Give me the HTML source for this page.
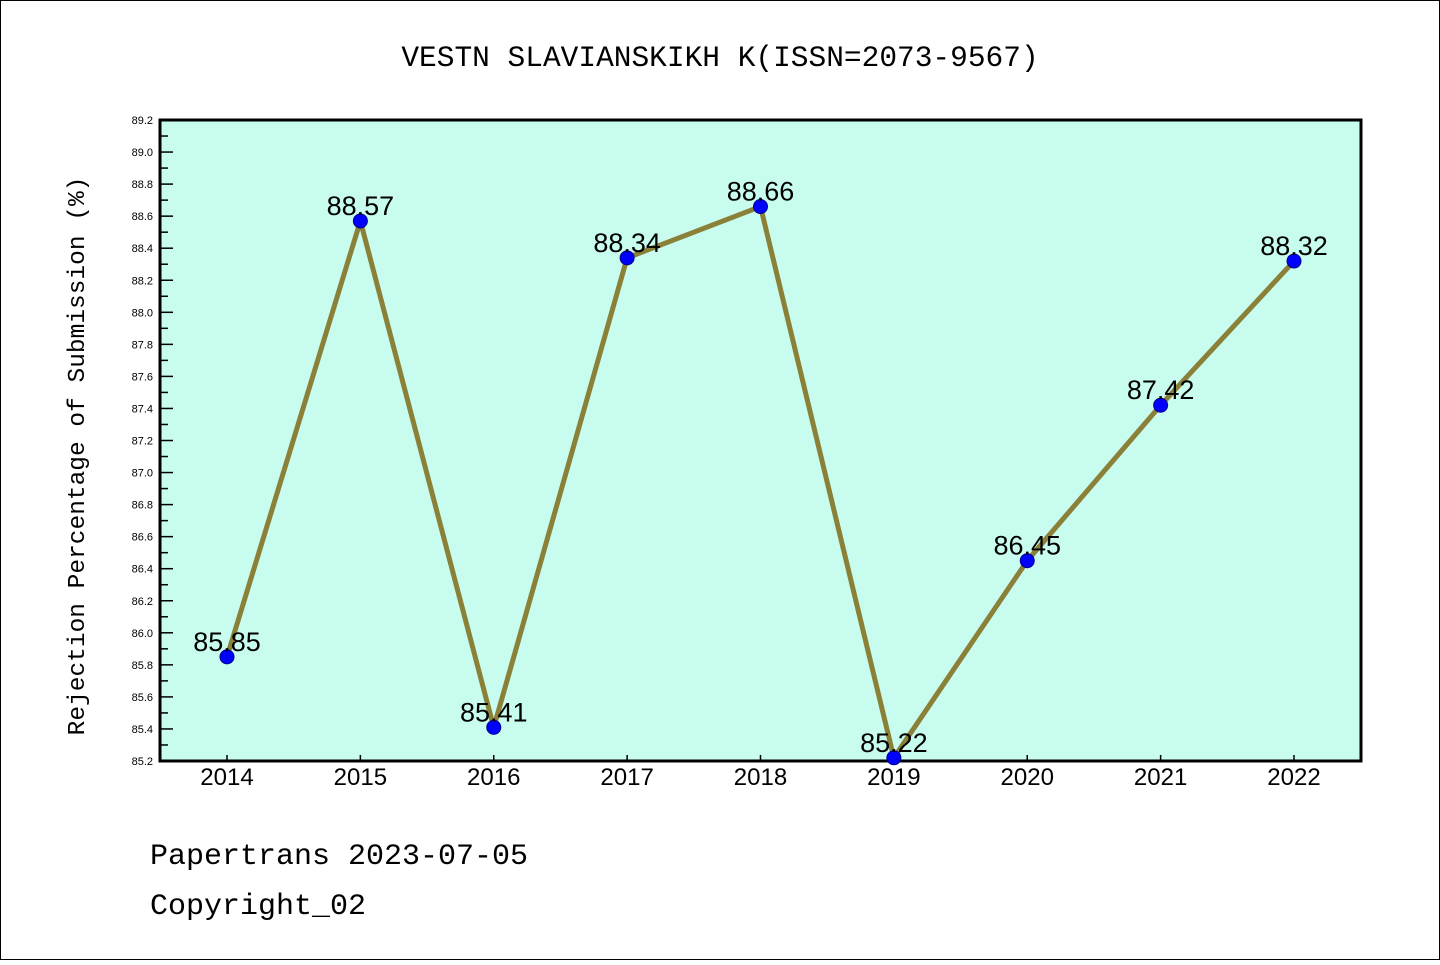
<!DOCTYPE html>
<html><head><meta charset="utf-8"><style>
body{margin:0;background:#fff}
.mono{font-family:"Liberation Mono","DejaVu Sans Mono",monospace}
.sans{font-family:"Liberation Sans","DejaVu Sans",sans-serif}
</style></head><body>
<svg width="1440" height="960" xmlns="http://www.w3.org/2000/svg" id="svg">
<rect x="0.5" y="0.5" width="1439" height="959" fill="#fff" stroke="#000"/>
<text class="mono" x="720" y="66" text-anchor="middle" font-size="29.5">VESTN SLAVIANSKIKH K(ISSN=2073-9567)</text>
<rect x="160" y="120" width="1201" height="641" fill="#c8fcee" stroke="#000" stroke-width="3"/>
<g id="ticks"></g>
<g id="series"></g>
<text class="mono" transform="translate(84,456) rotate(-90)" text-anchor="middle" font-size="24.5">Rejection Percentage of Submission (%)</text>
<text class="mono" x="150" y="864" font-size="30">Papertrans 2023-07-05</text>
<text class="mono" x="150" y="914" font-size="30">Copyright_02</text>
</svg>
<script>
const years=["2014","2015","2016","2017","2018","2019","2020","2021","2022"];
const values=[85.85,88.57,85.41,88.34,88.66,85.22,86.45,87.42,88.32];
const yMin=85.2,yMax=89.2;
const NS="http://www.w3.org/2000/svg";
const L=160,R=1361,T=120,B=761;
const x0=227,dx=(1294-227)/8;
const X=i=>x0+i*dx;
const Y=v=>B-(v-yMin)/(yMax-yMin)*(B-T);
function mk(tag,attrs,parent){const e=document.createElementNS(NS,tag);for(const k in attrs)e.setAttribute(k,attrs[k]);parent.appendChild(e);return e;}
const tg=document.getElementById('ticks'),sg=document.getElementById('series');
for(let k=0;k<=40;k++){
 const v=yMin+k*0.1,y=Y(v),major=k%2===0;
 const t=mk('line',{x1:L,x2:L+(major?13:8),y1:y,y2:y,stroke:'#000','stroke-width':1.5},tg);
 
 
 if(major){const lb=mk('text',{x:153,y:y+4,'text-anchor':'end','font-size':11,'class':'sans'},tg);
 
 
 lb.textContent=v.toFixed(1);}
}
years.forEach((yr,i)=>{
 const t=mk('line',{x1:X(i),x2:X(i),y1:B,y2:B-6,stroke:'#000','stroke-width':1.5},tg);
 
 
 const lb=mk('text',{x:X(i),y:785,'text-anchor':'middle','font-size':24,'class':'sans'},tg);
 
 
 lb.textContent=yr;
});
const pl=mk('polyline',{points:values.map((v,i)=>X(i)+','+Y(v)).join(' '),fill:'none',stroke:'#8a8038','stroke-width':5,'stroke-linejoin':'round'},sg);


values.forEach((v,i)=>{
 const c=mk('circle',{cx:X(i),cy:Y(v),r:7,fill:'#0000ff',stroke:'#00008b','stroke-width':1},sg);
 
 
 const lb=mk('text',{x:X(i),y:Y(v)-6,'text-anchor':'middle','font-size':27,'class':'sans'},sg);
 
 
 lb.textContent=v.toFixed(2);
});
</script>
</body></html>
